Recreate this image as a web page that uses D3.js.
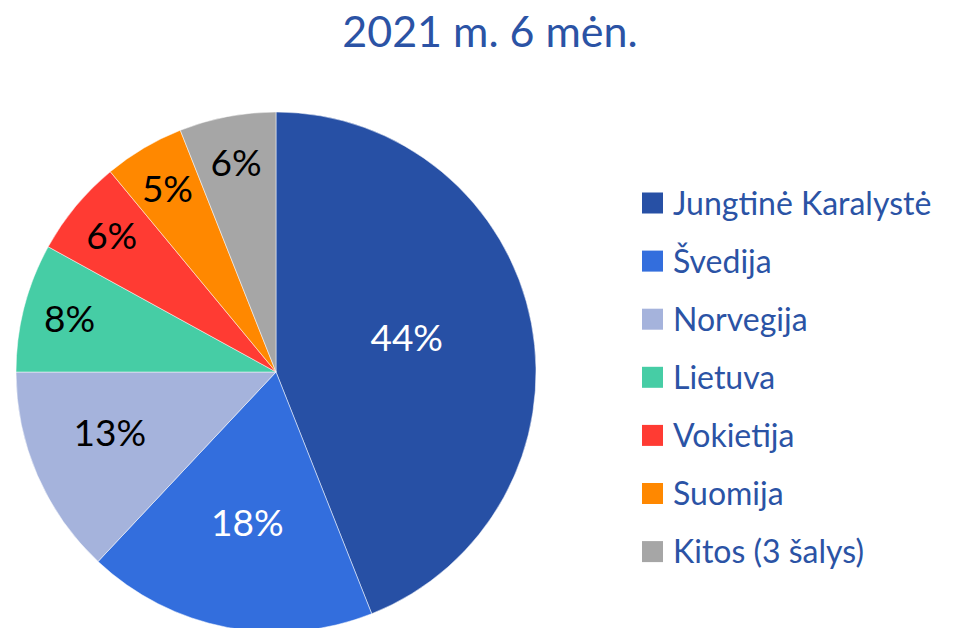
<!DOCTYPE html>
<html>
<head>
    <meta charset="utf-8">
    <title>2021 m. 6 mėn.</title>
    <script src="https://cdnjs.cloudflare.com/ajax/libs/d3/7.8.5/d3.min.js"></script>
    <style>
        body { margin: 0; background: #fff; }
        .chart-container { font-family: Lato, "Noto Sans", sans-serif; }
        .title { font-size: 43px; fill: #2B53A5; }
        .legend text { font-size: 32px; fill: #2B53A5; }
        .slice-label { font-size: 37px; }
    </style>
</head>
<body>
    <div class="chart-container"></div>
    <script>
        const countries = ["Jungtinė Karalystė", "Švedija", "Norvegija", "Lietuva", "Vokietija", "Suomija", "Kitos (3 šalys)"];
        const shares = [44, 18, 13, 8, 6, 5, 6];
        const colors = ["#2750A5", "#336EDD", "#A5B3DC", "#46CDA5", "#FF3B33", "#FF8800", "#A6A6A6"];
        const labelColors = ["#fff", "#fff", "#000", "#000", "#000", "#000", "#000"];

        const width = 953, height = 628;
        const radius = 260;
        const cx = 276, cy = 372;

        const svg = d3.select(".chart-container")
            .append("svg")
            .attr("width", width)
            .attr("height", height);

        svg.append("text")
            .attr("class", "title")
            .attr("x", 490)
            .attr("y", 47)
            .attr("text-anchor", "middle")
            .text("2021 m. 6 mėn.");

        const data = countries.map((c, i) => ({name: c, value: shares[i], i: i}));

        const pie = d3.pie().sort(null).value(d => d.value);
        const arc = d3.arc().innerRadius(0).outerRadius(radius);

        const g = svg.append("g")
            .attr("transform", `translate(${cx},${cy})`);

        const arcs = pie(data);

        g.selectAll("path")
            .data(arcs)
            .join("path")
            .attr("d", arc)
            .attr("fill", d => colors[d.data.i])
            .attr("stroke", "#fff")
            .attr("stroke-width", 0.5);

        // best-fit style: small slices sit near the rim, big ones closer in
        function labelRadius(v) {
            if (v >= 40) return radius * 0.52;
            if (v >= 15) return radius * 0.59;
            if (v >= 10) return radius * 0.68;
            return radius * 0.82;
        }

        g.selectAll("text.slice-label")
            .data(arcs)
            .join("text")
            .attr("class", "slice-label")
            .attr("transform", d => {
                const r = labelRadius(d.data.value);
                let a = (d.startAngle + d.endAngle) / 2;
                // big slices: Excel nudges the label a little toward the top
                if (d.data.value >= 10 && d.data.value < 15) a += 0.06;
                if (d.data.value >= 40) a -= 0.07;
                return `translate(${r * Math.sin(a)},${-r * Math.cos(a)})`;
            })
            .attr("text-anchor", "middle")
            .attr("dy", "0.36em")
            .attr("fill", d => labelColors[d.data.i])
            .text(d => d.data.value + "%");

        const legend = svg.append("g")
            .attr("class", "legend")
            .attr("transform", "translate(642,203)");

        const rowStep = 58.1;
        const rows = legend.selectAll("g")
            .data(data)
            .join("g")
            .attr("transform", (d, i) => `translate(0,${i * rowStep})`);

        rows.append("rect")
            .attr("x", 0)
            .attr("y", -10.5)
            .attr("width", 21)
            .attr("height", 21)
            .attr("fill", d => colors[d.i]);

        rows.append("text")
            .attr("x", 31)
            .attr("y", 0)
            .attr("dy", "0.36em")
            .text(d => d.name);
    </script>
</body>
</html>
